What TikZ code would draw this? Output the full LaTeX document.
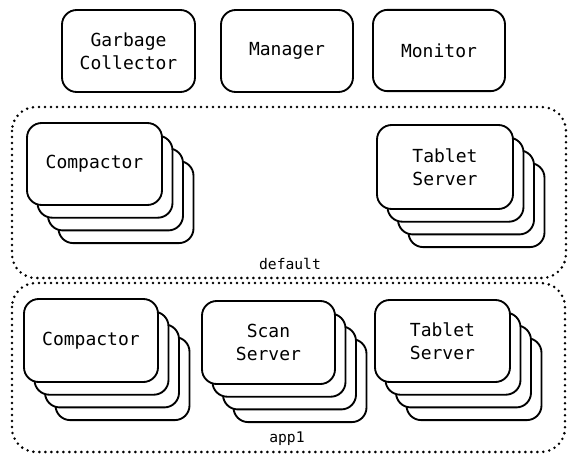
\documentclass[tikz,border=0pt]{standalone}
\usepackage{fontspec}
\setmainfont{DejaVu Sans Mono}
\begin{document}
\begin{tikzpicture}[x=0.75pt,y=-0.75pt,
  box/.style={draw=black, line width=1.4pt, rounded corners=11pt, fill=white,
    inner sep=0pt, align=center, font=\fontsize{13.5}{17.5}\selectfont},
  group/.style={draw=black, line width=2.1pt, line cap=round,
    dash pattern=on 0pt off 4.5pt, rounded corners=18pt},
  grouplabel/.style={font=\fontsize{11}{13}\selectfont, inner sep=0pt}]
\useasboundingbox (0,0) rectangle (576,465);
\fill[white] (0,0) rectangle (576,465);

% top boxes
\node[box, minimum width=99.75pt, minimum height=61.5pt] (gc) at (128.5,51) {Garbage\\Collector};
\node[box, minimum width=99pt, minimum height=61.5pt] (mgr) at (287,51) {Manager};
\node[box, minimum width=99pt, minimum height=61pt] (mon) at (439,50.5) {Monitor};

% groups
\draw[group] (12,107) rectangle (566,278);
\node[grouplabel] (deflbl) at (290,264) {default};
\draw[group] (12,283) rectangle (565,452);
\node[grouplabel] (applbl) at (287,439) {app1};

% stacks
\newcommand\mystack[6]{%
  \foreach \i in {3,2,1}{%
    \node[box, minimum width=#4, minimum height=#5] (#1\i) at ({#2+10.5*\i},{#3+12.7*\i}) {};
  }%
  \node[box, minimum width=#4, minimum height=#5] (#1) at (#2,#3) {#6};
}
\mystack{dcomp}{94.5}{164}{101.25pt}{61.5pt}{Compactor}
\mystack{dtab}{445}{167}{102pt}{63pt}{Tablet\\Server}
\mystack{acomp}{91}{340.5}{100.5pt}{62.25pt}{Compactor}
\mystack{ascan}{268.5}{342.5}{99.75pt}{62.25pt}{Scan\\Server}
\mystack{atab}{442.5}{341}{101.25pt}{61.5pt}{Tablet\\Server}
\end{tikzpicture}
\end{document}
